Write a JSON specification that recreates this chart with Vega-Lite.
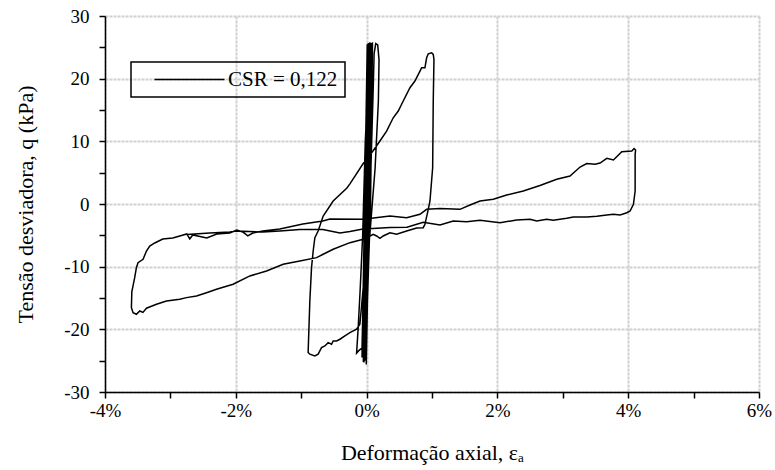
{
  "$schema": "https://vega.github.io/schema/vega-lite/v6.json",
  "width": 654,
  "height": 376,
  "autosize": "none",
  "padding": {"left": 105, "top": 16, "right": 16, "bottom": 78},
  "config": {
    "view": {"stroke": null},
    "font": "Liberation Serif",
    "legend": {"strokeWidth": 1.5}
  },
  "data": {
    "values": [
      {"x": 0, "q": 0},
      {"x": 0.01, "q": 25.5}, {"x": -0.03, "q": 0}, {"x": -0.07, "q": -24.5},
      {"x": -0.02, "q": 0}, {"x": 0.02, "q": 25.6}, {"x": -0.02, "q": 0}, {"x": -0.05, "q": -25},
      {"x": -0.01, "q": 0}, {"x": 0.03, "q": 25.4}, {"x": -0.01, "q": 0}, {"x": -0.05, "q": -25.2},
      {"x": 0.0, "q": 0}, {"x": 0.035, "q": 25.7}, {"x": 0.0, "q": 0}, {"x": -0.045, "q": -24.8},
      {"x": 0.01, "q": 0}, {"x": 0.04, "q": 25.5}, {"x": 0.005, "q": 0}, {"x": -0.04, "q": -25.3},
      {"x": 0.02, "q": 0}, {"x": 0.05, "q": 25.8}, {"x": 0.015, "q": 0}, {"x": -0.035, "q": -25.0},
      {"x": 0.03, "q": 0}, {"x": 0.06, "q": 25.6}, {"x": 0.025, "q": 0}, {"x": -0.005, "q": -25.6},
      {"x": 0.04, "q": 0}, {"x": 0.07, "q": 25.7}, {"x": 0.03, "q": 0}, {"x": -0.02, "q": -25.0},
      {"x": 0.05, "q": 0}, {"x": 0.08, "q": 25.5}, {"x": 0.04, "q": 0}, {"x": -0.015, "q": -24.6},
      {"x": 0.06, "q": 0}, {"x": 0.09, "q": 25.8}, {"x": 0.045, "q": 0}, {"x": -0.01, "q": -24.0},
      {"x": 0.05, "q": 0}, {"x": 0.1, "q": 18}, {"x": 0.115, "q": 24}, {"x": 0.14, "q": 25.6},
      {"x": 0.17, "q": 25.4}, {"x": 0.19, "q": 23}, {"x": 0.18, "q": 16.4}, {"x": 0.13, "q": 5.7},
      {"x": 0.05, "q": -4.8}, {"x": 0.0, "q": -10}, {"x": -0.03, "q": -20}, {"x": -0.035, "q": -24.5},
      {"x": 0.02, "q": 0}, {"x": 0.05, "q": 25.4}, {"x": -0.02, "q": 10}, {"x": -0.06, "q": -5},
      {"x": -0.1, "q": -14}, {"x": -0.13, "q": -20}, {"x": -0.153, "q": -23.8}, {"x": -0.12, "q": -23.4},
      {"x": -0.07, "q": -23}, {"x": -0.056, "q": -16.6}, {"x": -0.02, "q": 0}, {"x": 0.04, "q": 25.5},
      {"x": 0.01, "q": 0}, {"x": -0.04, "q": -12}, {"x": -0.077, "q": -16.3},
      {"x": -0.103, "q": -19.19}, {"x": -0.153, "q": -19.99}, {"x": -0.255, "q": -20.53}, {"x": -0.332, "q": -21.05},
      {"x": -0.408, "q": -21.58}, {"x": -0.459, "q": -21.85}, {"x": -0.511, "q": -21.85}, {"x": -0.536, "q": -22.38},
      {"x": -0.588, "q": -22.12}, {"x": -0.638, "q": -22.65}, {"x": -0.689, "q": -22.92}, {"x": -0.741, "q": -23.97},
      {"x": -0.791, "q": -24.24}, {"x": -0.868, "q": -23.97}, {"x": -0.894, "q": -23.7},
      {"x": -0.868, "q": -15.47}, {"x": -0.842, "q": -10.16}, {"x": -0.817, "q": -7.5}, {"x": -0.791, "q": -5.37},
      {"x": -0.741, "q": -4.31}, {"x": -0.664, "q": -1.91}, {"x": -0.511, "q": 0.48}, {"x": -0.301, "q": 2.55},
      {"x": -0.25, "q": 3.3}, {"x": -0.057, "q": 6.38}, {"x": 0.1, "q": 8.5}, {"x": 0.204, "q": 10.05},
      {"x": 0.306, "q": 11.64}, {"x": 0.407, "q": 13.76}, {"x": 0.484, "q": 14.83}, {"x": 0.56, "q": 16.43},
      {"x": 0.663, "q": 18.55}, {"x": 0.739, "q": 19.62}, {"x": 0.816, "q": 21.21}, {"x": 0.842, "q": 21.74},
      {"x": 0.892, "q": 21.74}, {"x": 0.918, "q": 23.33}, {"x": 0.943, "q": 23.97}, {"x": 0.995, "q": 24.13},
      {"x": 1.019, "q": 23.88}, {"x": 1.03, "q": 23.08}, {"x": 1.019, "q": 16.43}, {"x": 1.01, "q": 5.79},
      {"x": 0.969, "q": 0.48}, {"x": 0.943, "q": -0.85}, {"x": 0.892, "q": -3.24}, {"x": 0.866, "q": -3.78},
      {"x": 0.765, "q": -3.83}, {"x": 0.612, "q": -4.31}, {"x": 0.459, "q": -4.83}, {"x": 0.357, "q": -4.58},
      {"x": 0.254, "q": -5.1}, {"x": 0.204, "q": -5.47}, {"x": 0.153, "q": -5.1}, {"x": 0.101, "q": -4.83},
      {"x": 0.024, "q": -5.26}, {"x": -0.052, "q": -5.63}, {"x": -0.255, "q": -6.17}, {"x": -0.511, "q": -7.22},
      {"x": -0.664, "q": -8.02}, {"x": -0.765, "q": -8.56}, {"x": -1.021, "q": -9.09}, {"x": -1.276, "q": -9.62},
      {"x": -1.53, "q": -10.69}, {"x": -1.785, "q": -11.48}, {"x": -2.041, "q": -12.81}, {"x": -2.295, "q": -13.6},
      {"x": -2.448, "q": -14.15}, {"x": -2.601, "q": -14.67}, {"x": -2.754, "q": -14.94}, {"x": -2.857, "q": -15.2},
      {"x": -3.06, "q": -15.47}, {"x": -3.213, "q": -16.0}, {"x": -3.366, "q": -16.63}, {"x": -3.42, "q": -17.3},
      {"x": -3.469, "q": -17.07}, {"x": -3.52, "q": -17.6}, {"x": -3.571, "q": -17.34}, {"x": -3.596, "q": -16.54},
      {"x": -3.59, "q": -14}, {"x": -3.546, "q": -11.75}, {"x": -3.52, "q": -10.16}, {"x": -3.495, "q": -9.36},
      {"x": -3.418, "q": -8.82}, {"x": -3.366, "q": -7.5}, {"x": -3.316, "q": -6.7}, {"x": -3.239, "q": -6.22},
      {"x": -3.117, "q": -5.58}, {"x": -2.964, "q": -5.42}, {"x": -2.857, "q": -5.1}, {"x": -2.75, "q": -4.78},
      {"x": -2.704, "q": -5.58}, {"x": -2.658, "q": -4.94}, {"x": -2.444, "q": -5.42}, {"x": -2.291, "q": -4.78},
      {"x": -2.092, "q": -4.63}, {"x": -1.985, "q": -4.15}, {"x": -1.893, "q": -4.47}, {"x": -1.817, "q": -5.1},
      {"x": -1.74, "q": -4.63}, {"x": -1.587, "q": -4.31}, {"x": -1.327, "q": -3.99}, {"x": -0.975, "q": -3.19},
      {"x": -0.669, "q": -2.71}, {"x": -0.562, "q": -2.39}, {"x": -0.052, "q": -2.44}, {"x": 0.357, "q": -1.91},
      {"x": 0.612, "q": -2.18}, {"x": 0.816, "q": -1.64}, {"x": 0.918, "q": -0.85}, {"x": 1.122, "q": -0.72},
      {"x": 1.428, "q": -0.85}, {"x": 1.581, "q": -0.16}, {"x": 1.734, "q": 0.48}, {"x": 1.937, "q": 0.75},
      {"x": 2.142, "q": 1.44}, {"x": 2.396, "q": 2.07}, {"x": 2.651, "q": 2.95}, {"x": 2.907, "q": 3.94},
      {"x": 3.11, "q": 4.47}, {"x": 3.264, "q": 5.9}, {"x": 3.366, "q": 6.46}, {"x": 3.494, "q": 6.33},
      {"x": 3.57, "q": 6.54}, {"x": 3.673, "q": 7.29}, {"x": 3.774, "q": 7.02}, {"x": 3.902, "q": 8.34},
      {"x": 4.055, "q": 8.45}, {"x": 4.09, "q": 8.85}, {"x": 4.113, "q": 8.61},
      {"x": 4.106, "q": 7.93}, {"x": 4.106, "q": 2.07}, {"x": 4.08, "q": -0.05}, {"x": 4.029, "q": -1.12},
      {"x": 3.979, "q": -1.39}, {"x": 3.876, "q": -1.75}, {"x": 3.774, "q": -1.65}, {"x": 3.673, "q": -1.75},
      {"x": 3.52, "q": -1.96}, {"x": 3.366, "q": -2.07}, {"x": 3.161, "q": -2.07}, {"x": 3.06, "q": -2.28},
      {"x": 2.855, "q": -2.6}, {"x": 2.754, "q": -2.44}, {"x": 2.601, "q": -2.71}, {"x": 2.499, "q": -2.44},
      {"x": 2.295, "q": -2.55}, {"x": 2.04, "q": -2.98}, {"x": 1.734, "q": -2.6}, {"x": 1.53, "q": -2.82},
      {"x": 1.325, "q": -2.71}, {"x": 1.122, "q": -3.35}, {"x": 0.866, "q": -2.9}, {"x": 0.617, "q": -3.7},
      {"x": 0.357, "q": -3.75}, {"x": 0.096, "q": -3.91}, {"x": -0.057, "q": -3.99}, {"x": -0.255, "q": -4.39},
      {"x": -0.408, "q": -4.63}, {"x": -0.669, "q": -4.07}, {"x": -1.021, "q": -4.07}, {"x": -1.327, "q": -4.31},
      {"x": -1.587, "q": -4.47}, {"x": -1.985, "q": -4.31}, {"x": -2.092, "q": -4.47}, {"x": -2.398, "q": -4.63},
      {"x": -2.75, "q": -4.86}
    ]
  },
  "mark": {"type": "line", "strokeWidth": 1.5, "interpolate": "linear"},
  "encoding": {
    "x": {
      "field": "x",
      "type": "quantitative",
      "scale": {"domain": [-4, 6], "nice": false, "zero": false},
      "axis": {
        "values": [-4, -3, -2, -1, 0, 1, 2, 3, 4, 5, 6],
        "labelExpr": "datum.value % 2 == 0 ? datum.value + '%' : ''",
        "title": "Deformação axial, εₐ",
        "grid": true,
        "gridColor": "#d0d0d0",
        "gridDash": [3, 1],
        "gridWidth": 2,
        "gridOpacity": {"condition": {"test": "datum.value % 2 != 0", "value": 0}, "value": 1},
        "domainColor": "black",
        "domainWidth": 1.5,
        "tickColor": "black",
        "tickWidth": 1.5,
        "tickSize": 6,
        "labelFontSize": 19,
        "labelColor": "black",
        "labelPadding": 3,
        "labelFlush": false,
        "titleFontSize": 22,
        "titleFontWeight": "normal",
        "titleColor": "black",
        "titlePadding": 22
      }
    },
    "y": {
      "field": "q",
      "type": "quantitative",
      "scale": {"domain": [-30, 30], "nice": false, "zero": false},
      "axis": {
        "values": [-30, -25, -20, -15, -10, -5, 0, 5, 10, 15, 20, 25, 30],
        "labelExpr": "datum.value % 10 == 0 ? datum.value + '' : ''",
        "title": "Tensão desviadora, q (kPa)",
        "grid": true,
        "gridColor": "#d0d0d0",
        "gridDash": [3, 1],
        "gridWidth": 2,
        "gridOpacity": {"condition": {"test": "datum.value % 10 != 0", "value": 0}, "value": 1},
        "domainColor": "black",
        "domainWidth": 1.5,
        "tickColor": "black",
        "tickWidth": 1.5,
        "tickSize": 6,
        "labelFontSize": 19,
        "labelColor": "black",
        "labelPadding": 10,
        "labelFlush": false,
        "titleFontSize": 22,
        "titleFontWeight": "normal",
        "titleColor": "black",
        "titlePadding": 26
      }
    },
    "color": {
      "datum": "CSR = 0,122",
      "type": "nominal",
      "scale": {"range": ["black"]},
      "legend": {
        "orient": "none",
        "legendX": 26,
        "legendY": 46,
        "title": null,
        "strokeColor": "black",
        "padding": 7,
        "symbolType": "M-5,0H5",
        "symbolSize": 196,
        "symbolStrokeWidth": 1.5,
        "symbolStrokeColor": "black",
        "symbolOffset": 41,
        "labelOffset": 28,
        "labelFontSize": 21,
        "labelFont": "Liberation Serif",
        "labelColor": "black"
      }
    },
    "order": {"value": null}
  }
}
